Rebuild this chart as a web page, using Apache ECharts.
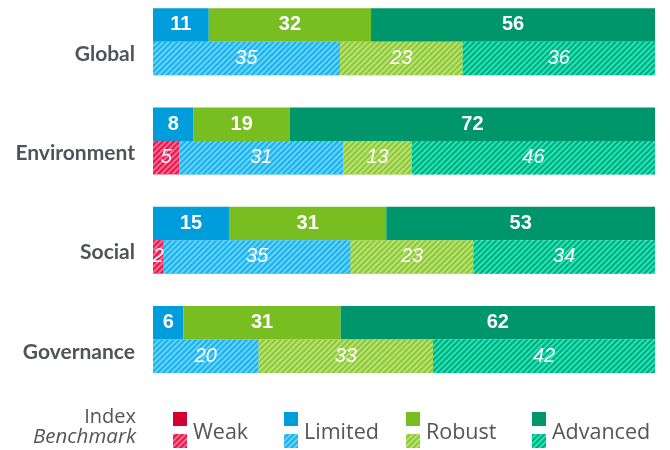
<!DOCTYPE html>
<html>
<head>
<meta charset="utf-8">
<script src="https://cdn.jsdelivr.net/npm/echarts@6/dist/echarts.min.js"></script>
<style>
  html, body { margin: 0; padding: 0; background: #fff; }
  #chart { width: 670px; height: 450px; }
</style>
</head>
<body>
<div id="chart"></div>
<script>
const categories = ['Global', 'Environment', 'Social', 'Governance'];
const levels = ['Weak', 'Limited', 'Robust', 'Advanced'];

// Index (solid bars)
const indexWeak = [0, 0, 0, 0];
const indexLimited = [11, 8, 15, 6];
const indexRobust = [32, 19, 31, 31];
const indexAdvanced = [56, 72, 53, 62];

// Benchmark (hatched bars)
const benchWeak = [0, 5, 2, 0];
const benchLimited = [35, 31, 35, 20];
const benchRobust = [23, 13, 23, 33];
const benchAdvanced = [36, 46, 34, 42];

const solidColors = ['#d50032', '#009ddc', '#78be20', '#00966c'];
const hatchColors = ['#e3174b', '#1ab0ec', '#8cc63f', '#1ee8b5'];
const stripeColors = ['#ff6a8e', '#66d4f8', '#b9e36d', '#05a87e'];

const chart = echarts.init(document.getElementById('chart'));

// each bar row is scaled to fill 100% (rounded values do not add up exactly)
function shares(rows) {
    return categories.map(function (c, i) {
        let total = 0;
        rows.forEach(function (r) { total += r[i]; });
        return rows.map(function (r) { return { value: r[i] / total * 100, raw: r[i] }; });
    });
}
const indexShares = shares([indexWeak, indexLimited, indexRobust, indexAdvanced]);
const benchShares = shares([benchWeak, benchLimited, benchRobust, benchAdvanced]);

const series = [];
levels.forEach(function (lv, k) {
    series.push({
        name: lv,
        type: 'bar',
        stack: 'index',
        barWidth: 33.5,
        barGap: '0%',
        data: categories.map(function (c, i) { return indexShares[i][k]; }),
        itemStyle: { color: solidColors[k] },
        label: {
            show: true,
            position: 'inside',
            color: '#fff',
            fontFamily: 'Liberation Sans',
            fontWeight: 'bold',
            fontSize: 20,
            formatter: function (p) { return p.data.raw ? p.data.raw : ''; }
        }
    });
});
levels.forEach(function (lv, k) {
    series.push({
        name: lv + ' benchmark',
        type: 'bar',
        stack: 'bench',
        barWidth: 33.5,
        barGap: '0%',
        data: categories.map(function (c, i) { return benchShares[i][k]; }),
        itemStyle: {
            color: hatchColors[k],
            decal: {
                symbol: 'rect',
                symbolSize: 1,
                color: stripeColors[k],
                dashArrayX: [1, 0],
                dashArrayY: [2, 2],
                rotation: -Math.PI / 4
            }
        },
        label: {
            show: true,
            position: 'inside',
            color: '#fff',
            fontFamily: 'Liberation Sans',
            fontStyle: 'italic',
            fontSize: 20,
            formatter: function (p) { return p.data.raw ? p.data.raw : ''; }
        }
    });
});

const legendLeft = [173, 284, 406, 532];
const legends = levels.map(function (lv, k) {
    return {
        orient: 'vertical',
        left: legendLeft[k],
        top: 412,
        itemWidth: 14,
        itemHeight: 14,
        itemGap: 8,
        padding: 0,
        icon: 'rect',
        selectedMode: false,
        formatter: function () { return ''; },
        data: [lv, lv + ' benchmark']
    };
});

const legendTexts = levels.map(function (lv, k) {
    return {
        type: 'text',
        left: legendLeft[k] + 20,
        top: 422,
        style: { text: lv, fill: '#555', font: '21.5px "Open Sans"' }
    };
});

chart.setOption({
    animation: false,
    grid: { left: 153, right: 15, top: -8, height: 397, outerBoundsMode: 'none' },
    xAxis: { type: 'value', min: 0, max: 100, show: false },
    yAxis: {
        type: 'category',
        inverse: true,
        data: categories,
        axisLine: { show: false },
        axisTick: { show: false },
        axisLabel: {
            margin: 18,
            color: '#50535a',
            fontFamily: 'Lato',
            fontWeight: 'bold',
            fontSize: 21,
            verticalAlign: 'top',
            padding: [2, 0, 0, 0]
        }
    },
    legend: legends,
    graphic: [
        {
            type: 'text', right: 534, top: 407,
            style: { text: 'Index', fill: '#555', font: '20px "Open Sans"', textAlign: 'right' }
        },
        {
            type: 'text', right: 534, top: 427,
            style: { text: 'Benchmark', fill: '#555', font: 'italic 20.5px "Open Sans"', textAlign: 'right' }
        }
    ].concat(legendTexts),
    series: series
});
</script>
</body>
</html>
